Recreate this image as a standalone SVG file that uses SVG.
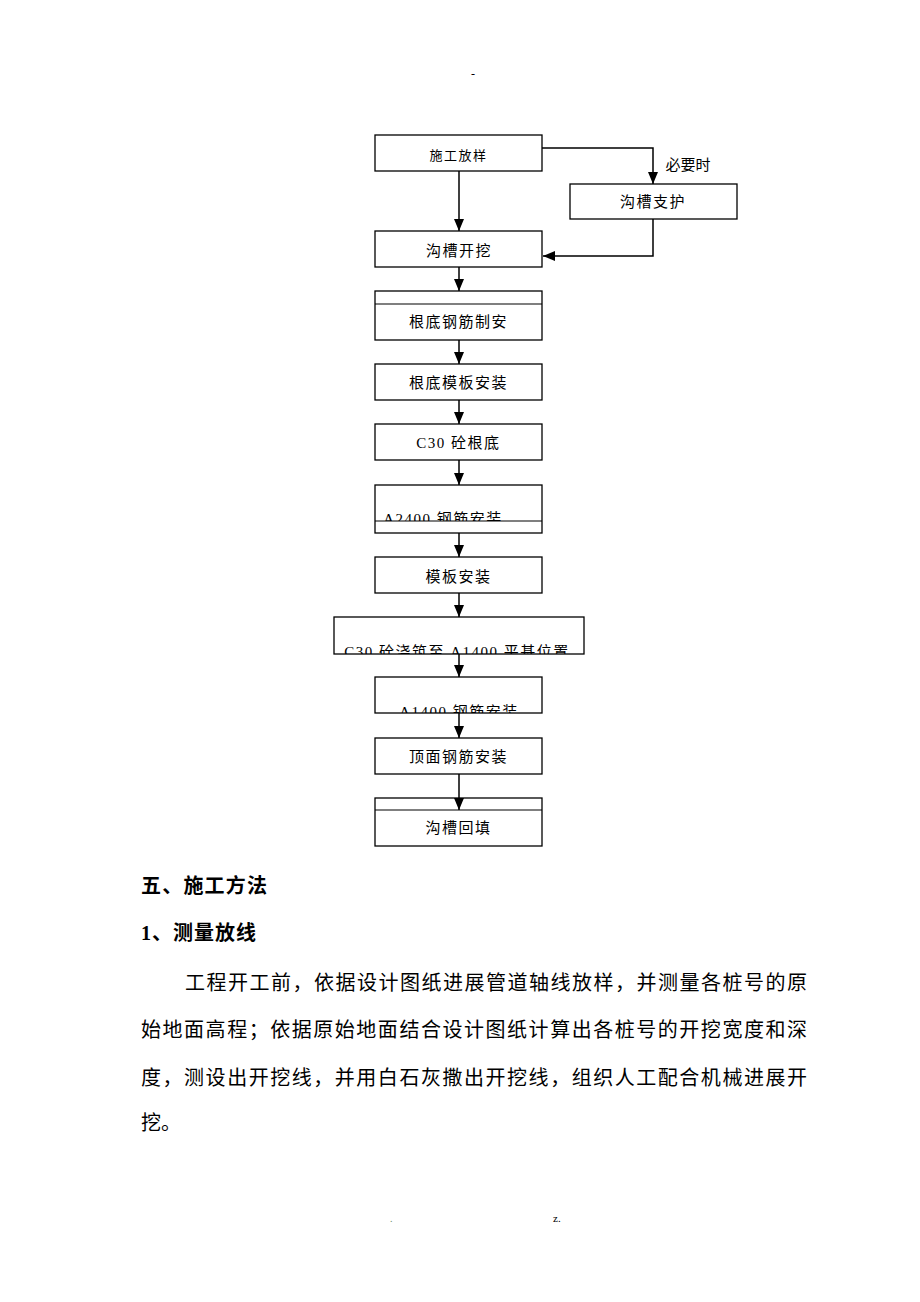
<svg xmlns="http://www.w3.org/2000/svg" width="920" height="1302" viewBox="0 0 920 1302">
<style>
.box{fill:#fff;stroke:#000;stroke-width:1.3}
.ln{fill:none;stroke:#000;stroke-width:1.5}
.t{font-family:"Liberation Serif","Noto Sans CJK SC",serif;font-size:15px;fill:#000;text-anchor:middle;dominant-baseline:central;letter-spacing:1.5px}
.body{font-family:"Liberation Serif","Noto Sans CJK SC",serif;font-size:20px;fill:#000}
.hd{font-family:"Liberation Serif","Noto Sans CJK SC",serif;font-size:20px;font-weight:bold;fill:#000}
</style>
<defs>
<marker id="ah" viewBox="0 0 12 10" refX="12" refY="5" markerWidth="12" markerHeight="10" orient="auto" markerUnits="userSpaceOnUse">
<path d="M0,0 L12,5 L0,10 z" fill="#000"/>
</marker>
<clipPath id="c1"><rect x="375" y="485" width="167" height="36"/></clipPath>
<clipPath id="c2"><rect x="334" y="617" width="250" height="37"/></clipPath>
<clipPath id="c3"><rect x="375" y="677" width="167" height="36"/></clipPath>
</defs>

<text x="473" y="78" class="body" style="font-size:12px" text-anchor="middle">-</text>

<g id="n1"><rect class="box" x="375" y="135" width="167" height="36"/><text class="t" x="458.5" y="155" style="font-size:13px">施工放样</text></g>
<g id="n2"><rect class="box" x="570" y="184" width="167" height="35"/><text class="t" x="653" y="202">沟槽支护</text></g>
<text x="688" y="165" class="t" style="letter-spacing:0">必要时</text>
<g id="n3"><rect class="box" x="375" y="231" width="167" height="36"/><text class="t" x="459" y="251">沟槽开挖</text></g>
<g id="n4"><rect class="box" x="375" y="291" width="167" height="49"/><line class="ln" x1="375" y1="304" x2="542" y2="304" style="stroke-width:1.2"/><text class="t" x="458.5" y="322">根底钢筋制安</text></g>
<g id="n5"><rect class="box" x="375" y="364" width="167" height="36"/><text class="t" x="458.5" y="383">根底模板安装</text></g>
<g id="n6"><rect class="box" x="375" y="424" width="167" height="36"/><text class="t" x="458.5" y="443">C30 砼根底</text></g>
<g id="n7"><rect class="box" x="375" y="485" width="167" height="48"/><line class="ln" x1="375" y1="521" x2="542" y2="521" style="stroke-width:1.2"/><text class="t" x="443" y="519" clip-path="url(#c1)">A2400 钢筋安装</text></g>
<g id="n8"><rect class="box" x="375" y="557" width="167" height="36"/><text class="t" x="458.5" y="577">模板安装</text></g>
<g id="n9"><rect class="box" x="334" y="617" width="250" height="37"/><text class="t" x="457" y="652" clip-path="url(#c2)">C30 砼浇筑至 A1400 平基位置</text></g>
<g id="n10"><rect class="box" x="375" y="677" width="167" height="36"/><text class="t" x="459" y="712" clip-path="url(#c3)">A1400 钢筋安装</text></g>
<g id="n11"><rect class="box" x="375" y="738" width="167" height="36"/><text class="t" x="458.5" y="757">顶面钢筋安装</text></g>
<g id="n12"><rect class="box" x="375" y="798" width="167" height="48"/><line class="ln" x1="375" y1="810" x2="542" y2="810" style="stroke-width:1.2"/><text class="t" x="458.5" y="828">沟槽回填</text></g>

<g id="connectors">
<path class="ln" d="M459,171 V231" marker-end="url(#ah)"/>
<path class="ln" d="M542,148 H653 V184" marker-end="url(#ah)"/>
<path class="ln" d="M653,219 V256 H543" marker-end="url(#ah)"/>
<path class="ln" d="M459,267 V291" marker-end="url(#ah)"/>
<path class="ln" d="M459,340 V364" marker-end="url(#ah)"/>
<path class="ln" d="M459,400 V424" marker-end="url(#ah)"/>
<path class="ln" d="M459,460 V485" marker-end="url(#ah)"/>
<path class="ln" d="M459,533 V557" marker-end="url(#ah)"/>
<path class="ln" d="M459,593 V617" marker-end="url(#ah)"/>
<path class="ln" d="M459,654 V677" marker-end="url(#ah)"/>
<path class="ln" d="M459,713 V738" marker-end="url(#ah)"/>
<path class="ln" d="M459,774 V810" marker-end="url(#ah)"/>
</g>

<text class="hd" x="141" y="893" textLength="126" lengthAdjust="spacing">五、施工方法</text>
<text class="hd" x="141" y="940" textLength="115" lengthAdjust="spacing">1、测量放线</text>
<text class="body" x="185" y="990" textLength="622" lengthAdjust="spacing">工程开工前，依据设计图纸进展管道轴线放样，并测量各桩号的原</text>
<text class="body" x="141" y="1037" textLength="666" lengthAdjust="spacing">始地面高程；依据原始地面结合设计图纸计算出各桩号的开挖宽度和深</text>
<text class="body" x="141" y="1085" textLength="666" lengthAdjust="spacing">度，测设出开挖线，并用白石灰撒出开挖线，组织人工配合机械进展开</text>
<text class="body" x="141" y="1130">挖。</text>

<text class="body" x="390" y="1222" style="font-size:10px;fill:#6a8a6a">.</text>
<text class="body" x="553" y="1222" style="font-size:11px">z.</text>
</svg>
